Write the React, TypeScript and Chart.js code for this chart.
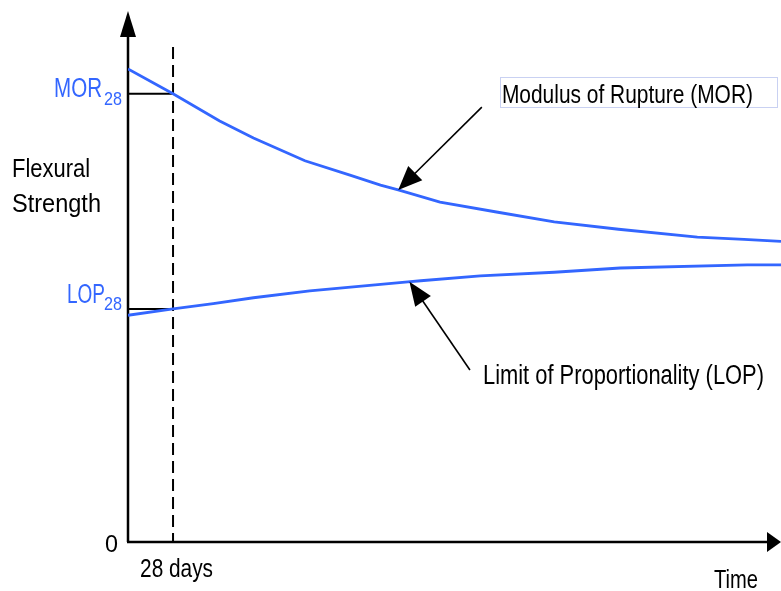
import React, { useEffect, useRef } from 'react';
import { Chart, registerables } from 'chart.js';

Chart.register(...registerables);

// ---- Data (time in days, strength in arbitrary units) ----
const morDays = [0, 28, 57, 78, 110, 138, 157, 168, 194, 230, 265, 305, 354, 383, 406];
const morValues = [89.1, 84.4, 79.3, 76.1, 71.8, 69.1, 67.2, 66.3, 64.0, 62.1, 60.3, 58.9, 57.4, 57.0, 56.6];
const lopDays = [0, 28, 53, 78, 113, 174, 182, 219, 265, 306, 385, 406];
const lopValues = [42.7, 43.9, 44.9, 46.0, 47.3, 49.0, 49.2, 50.1, 50.8, 51.6, 52.2, 52.2];

const xMax = 406;
const yMax = 100;
const refDay = 28;

const yTitleLines = ['Flexural', 'Strength'];
const xTitle = 'Time';
const refLabel = '28 days';
const zeroLabel = '0';
const morShort = 'MOR';
const lopShort = 'LOP';
const subLabel = '28';
const morName = 'Modulus of Rupture (MOR)';
const lopName = 'Limit of Proportionality (LOP)';

// annotation anchors in data units [day, value]
const morArrowTail = [220, 81.9];
const morArrowDay = 168;
const lopArrowTail = [212.6, 32.4];
const lopArrowDay = 175;
const morLabelAt = [232.5, 82.7];
const morBox = [231.3, 87.6, 403.5, 81.9];
const lopLabelAt = [220.7, 29.8];

const BLUE = '#3366ff';
const FONT = '"Liberation Sans", Arial, sans-serif';

function interp(xs: number[], ys: number[], x: number) {
  for (let i = 0; i < xs.length - 1; i++) {
    if (x >= xs[i] && x <= xs[i + 1]) {
      const t = (x - xs[i]) / (xs[i + 1] - xs[i]);
      return ys[i] + t * (ys[i + 1] - ys[i]);
    }
  }
  return ys[ys.length - 1];
}

function fitText(
  ctx: CanvasRenderingContext2D,
  text: string,
  x: number,
  y: number,
  size: number,
  width: number,
  color: string,
  align: 'left' | 'right' = 'left'
) {
  ctx.save();
  ctx.font = `${size}px ${FONT}`;
  const w = ctx.measureText(text).width;
  const s = width / w;
  ctx.translate(align === 'right' ? x - width : x, y);
  ctx.scale(s, 1);
  ctx.fillStyle = color;
  ctx.textAlign = 'left';
  ctx.textBaseline = 'alphabetic';
  ctx.fillText(text, 0, 0);
  ctx.restore();
}

function arrow(
  ctx: CanvasRenderingContext2D,
  x1: number,
  y1: number,
  x2: number,
  y2: number,
  headLen: number,
  headHalf: number
) {
  const dx = x2 - x1;
  const dy = y2 - y1;
  const len = Math.hypot(dx, dy);
  const ux = dx / len;
  const uy = dy / len;
  const bx = x2 - ux * headLen;
  const by = y2 - uy * headLen;
  ctx.save();
  ctx.strokeStyle = '#000';
  ctx.fillStyle = '#000';
  ctx.lineWidth = 1.6;
  ctx.beginPath();
  ctx.moveTo(x1, y1);
  ctx.lineTo(bx + ux * 2, by + uy * 2);
  ctx.stroke();
  ctx.beginPath();
  ctx.moveTo(x2, y2);
  ctx.lineTo(bx - uy * headHalf, by + ux * headHalf);
  ctx.lineTo(bx + uy * headHalf, by - ux * headHalf);
  ctx.closePath();
  ctx.fill();
  ctx.restore();
}

const overlay = {
  id: 'overlay',
  beforeDatasetsDraw(chart: any) {
    const ctx: CanvasRenderingContext2D = chart.ctx;
    const ca = chart.chartArea;
    const xs = chart.scales.x;
    const ys = chart.scales.y;
    ctx.save();
    ctx.strokeStyle = '#000';
    ctx.fillStyle = '#000';
    ctx.lineWidth = 2.5;
    // y axis
    ctx.beginPath();
    ctx.moveTo(ca.left, ca.bottom);
    ctx.lineTo(ca.left, ca.top + 24);
    ctx.stroke();
    ctx.beginPath();
    ctx.moveTo(ca.left, ca.top);
    ctx.lineTo(ca.left - 8, ca.top + 26);
    ctx.lineTo(ca.left + 8, ca.top + 26);
    ctx.closePath();
    ctx.fill();
    // x axis
    ctx.beginPath();
    ctx.moveTo(ca.left - 1, ca.bottom);
    ctx.lineTo(ca.right - 12, ca.bottom);
    ctx.stroke();
    ctx.beginPath();
    ctx.moveTo(ca.right, ca.bottom);
    ctx.lineTo(ca.right - 14, ca.bottom - 10);
    ctx.lineTo(ca.right - 14, ca.bottom + 10);
    ctx.closePath();
    ctx.fill();
    // dashed 28-day line
    const rx = xs.getPixelForValue(refDay);
    ctx.lineWidth = 2;
    ctx.setLineDash([12, 6]);
    ctx.beginPath();
    ctx.moveTo(rx, ca.top + 36);
    ctx.lineTo(rx, ca.bottom);
    ctx.stroke();
    ctx.setLineDash([]);
    // reference ticks
    const morY = ys.getPixelForValue(interp(morDays, morValues, refDay));
    const lopY = ys.getPixelForValue(interp(lopDays, lopValues, refDay));
    ctx.beginPath();
    ctx.moveTo(ca.left, morY);
    ctx.lineTo(rx, morY);
    ctx.moveTo(ca.left, lopY);
    ctx.lineTo(rx, lopY);
    ctx.stroke();
    ctx.restore();
  },
  afterDatasetsDraw(chart: any) {
    const ctx: CanvasRenderingContext2D = chart.ctx;
    const ca = chart.chartArea;
    const xs = chart.scales.x;
    const ys = chart.scales.y;
    const px = (d: number) => xs.getPixelForValue(d);
    const py = (v: number) => ys.getPixelForValue(v);
    const rx = px(refDay);
    const morY = py(interp(morDays, morValues, refDay));
    const lopY = py(interp(lopDays, lopValues, refDay));

    // axis titles
    fitText(ctx, yTitleLines[0], ca.left - 116, 177, 26, 78, '#000');
    fitText(ctx, yTitleLines[1], ca.left - 116, 212, 26, 89, '#000');
    fitText(ctx, zeroLabel, ca.left - 10, ca.bottom + 10, 24, 13, '#000', 'right');
    fitText(ctx, refLabel, rx - 33, ca.bottom + 35, 25, 73, '#000');
    fitText(ctx, xTitle, ca.right - 67, ca.bottom + 46, 25, 44, '#000');

    // MOR28 / LOP28
    fitText(ctx, morShort, ca.left - 26, morY + 3, 27, 48, BLUE, 'right');
    fitText(ctx, subLabel, ca.left - 24, morY + 11, 19, 18, BLUE);
    fitText(ctx, lopShort, ca.left - 23, lopY - 6, 27, 38, BLUE, 'right');
    fitText(ctx, subLabel, ca.left - 24, lopY + 1, 19, 18, BLUE);

    // MOR annotation
    ctx.save();
    ctx.strokeStyle = '#c9d1f2';
    ctx.lineWidth = 1;
    const bx1 = px(morBox[0]);
    const by1 = py(morBox[1]);
    const bx2 = px(morBox[2]);
    const by2 = py(morBox[3]);
    ctx.strokeRect(Math.round(bx1) + 0.5, Math.round(by1) + 0.5, Math.round(bx2 - bx1), Math.round(by2 - by1));
    ctx.restore();
    fitText(ctx, morName, px(morLabelAt[0]), py(morLabelAt[1]), 26, 251, '#000');
    arrow(
      ctx,
      px(morArrowTail[0]),
      py(morArrowTail[1]),
      px(morArrowDay),
      py(interp(morDays, morValues, morArrowDay)),
      24,
      10
    );

    // LOP annotation
    fitText(ctx, lopName, px(lopLabelAt[0]), py(lopLabelAt[1]), 27, 281, '#000');
    arrow(
      ctx,
      px(lopArrowTail[0]),
      py(lopArrowTail[1]),
      px(lopArrowDay),
      py(interp(lopDays, lopValues, lopArrowDay)),
      24,
      9.5
    );
  },
};

export default function App() {
  const ref = useRef<HTMLCanvasElement | null>(null);
  useEffect(() => {
    if (!ref.current) return;
    const chart = new Chart(ref.current, {
      type: 'line',
      data: {
        datasets: [
          {
            label: 'MOR',
            data: morDays.map((d, i) => ({ x: d, y: morValues[i] })),
            borderColor: BLUE,
            borderWidth: 2.8,
            pointRadius: 0,
            tension: 0,
            fill: false,
          },
          {
            label: 'LOP',
            data: lopDays.map((d, i) => ({ x: d, y: lopValues[i] })),
            borderColor: BLUE,
            borderWidth: 2.8,
            pointRadius: 0,
            tension: 0,
            fill: false,
          },
        ],
      },
      options: {
        responsive: false,
        animation: false,
        events: [],
        layout: { padding: { left: 128, right: 0, top: 11, bottom: 49 } },
        scales: {
          x: { type: 'linear', min: 0, max: xMax, display: false },
          y: { type: 'linear', min: 0, max: yMax, display: false },
        },
        plugins: {
          legend: { display: false },
          tooltip: { enabled: false },
        },
      },
      plugins: [overlay],
    });
    return () => chart.destroy();
  }, []);
  return (
    <div style={{ position: 'fixed', left: 0, top: 0, width: 781, height: 591, background: '#fff' }}>
      <canvas ref={ref} width={781} height={591} style={{ width: 781, height: 591, display: 'block' }} />
    </div>
  );
}
